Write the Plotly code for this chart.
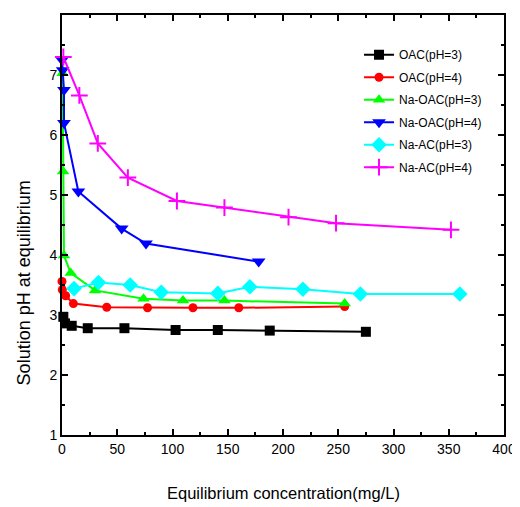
import plotly.graph_objects as go

# Data
oac3_x = [1.2, 2.7, 8.8, 23.3, 56.5, 102.8, 141, 188, 275]
oac3_y = [2.97, 2.86, 2.82, 2.78, 2.78, 2.75, 2.75, 2.74, 2.72]

oac4_x = [0, 0.3, 3.3, 10.3, 40.5, 77.4, 118.5, 160, 255.8]
oac4_y = [3.56, 3.42, 3.32, 3.19, 3.13, 3.12, 3.12, 3.12, 3.14]

naoac3_x = [0.5, 1.0, 1.8, 7.9, 29.9, 73.8, 109.5, 147, 255.8]
naoac3_y = [7.03, 5.39, 3.99, 3.70, 3.41, 3.27, 3.24, 3.24, 3.19]

naoac4_x = [0, 0.6, 1.8, 1.8, 14.8, 54, 76, 178]
naoac4_y = [7.25, 7.08, 6.75, 6.20, 5.06, 4.44, 4.19, 3.89]

naac3_x = [10.9, 33, 61.7, 89.8, 141, 170, 218, 270, 360]
naac3_y = [3.44, 3.54, 3.50, 3.38, 3.36, 3.47, 3.43, 3.35, 3.35]

naac4_x = [1.2, 15.7, 32.4, 59.6, 104, 147, 205, 248, 352]
naac4_y = [7.30, 6.66, 5.86, 5.29, 4.90, 4.79, 4.63, 4.53, 4.42]

series = [
    ("OAC(pH=3)", oac3_x, oac3_y, "black", "square", 10),
    ("OAC(pH=4)", oac4_x, oac4_y, "red", "circle", 9),
    ("Na-OAC(pH=3)", naoac3_x, naoac3_y, "#00ff00", "triangle-up", 11),
    ("Na-OAC(pH=4)", naoac4_x, naoac4_y, "blue", "triangle-down", 12),
    ("Na-AC(pH=3)", naac3_x, naac3_y, "cyan", "diamond", 12),
    ("Na-AC(pH=4)", naac4_x, naac4_y, "magenta", "cross-thin", 12),
]

FONT = "Liberation Sans, Arial, sans-serif"

fig = go.Figure()
for i, (name, xs, ys, col, sym, sz) in enumerate(series):
    marker = dict(symbol=sym, size=sz, color=col)
    if sym == "cross-thin":
        marker["line"] = dict(color=col, width=2)
    fig.add_trace(go.Scatter(
        x=xs, y=ys, name=name, mode="lines+markers", legendgroup=f"g{i}",
        line=dict(color=col, width=2), marker=marker, cliponaxis=False,
    ))

axis_common = dict(
    showline=True, linecolor="black", linewidth=2, mirror="ticks",
    ticks="inside", ticklen=6, tickwidth=1.5, tickcolor="black",
    showgrid=False, zeroline=False, automargin=False,
    tickfont=dict(family=FONT, size=14, color="black"),
)

fig.update_xaxes(range=[0, 400], dtick=50,
                 minor=dict(dtick=25, ticks="inside", ticklen=3, tickcolor="black"),
                 **axis_common)
fig.update_yaxes(range=[1, 8], dtick=1,
                 minor=dict(dtick=0.5, ticks="inside", ticklen=3, tickcolor="black"),
                 **axis_common)

fig.add_annotation(text="Equilibrium concentration(mg/L)",
                   xref="paper", yref="paper", x=0.5, y=-0.138,
                   xanchor="center", yanchor="middle", showarrow=False,
                   font=dict(family=FONT, size=16.5, color="black"))
fig.add_annotation(text="Solution pH at equilibrium", textangle=-90,
                   xref="paper", yref="paper", x=-0.085, y=0.362,
                   xanchor="center", yanchor="middle", showarrow=False,
                   font=dict(family=FONT, size=18, color="black"))

# page body adds an ~8px margin, so the figure is sized to fit the window
fig.update_layout(
    width=512, height=499,
    margin=dict(l=54, r=16, t=7, b=72),
    plot_bgcolor="white", paper_bgcolor="white",
    legend=dict(x=0.672, y=0.94, xanchor="left", yanchor="top",
                bgcolor="rgba(0,0,0,0)", tracegroupgap=3.5,
                font=dict(family=FONT, size=12, color="black"),
                itemwidth=30),
)

fig.write_html("out.html")
